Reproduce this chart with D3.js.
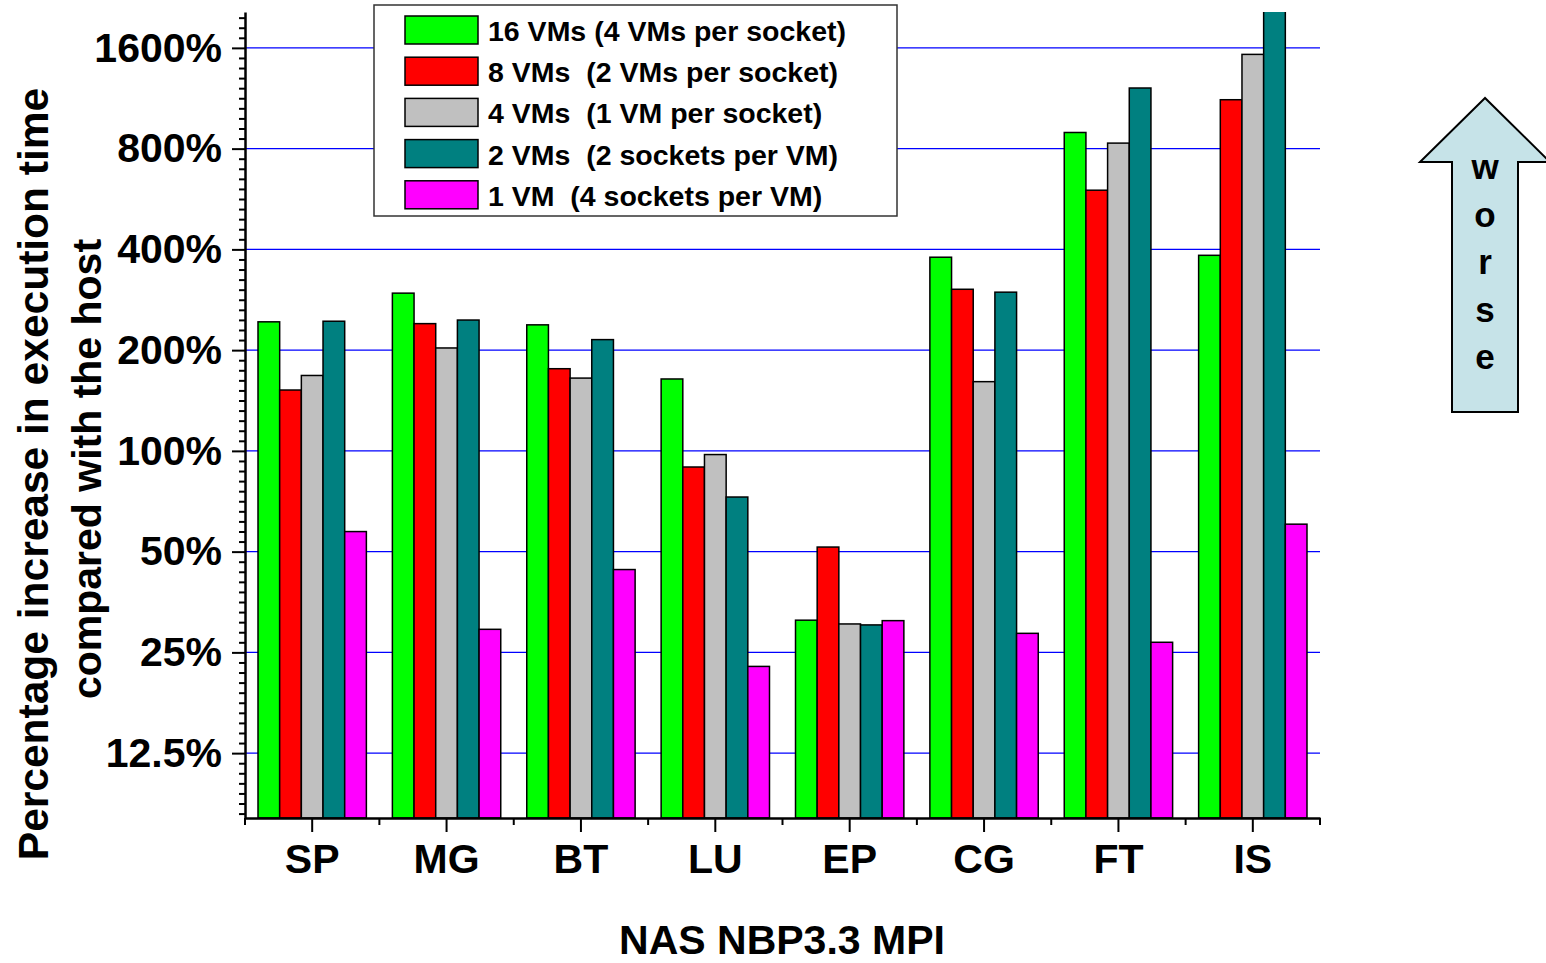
<!DOCTYPE html>
<html>
<head>
<meta charset="utf-8">
<script src="https://cdn.jsdelivr.net/npm/d3@7"></script>
<style>
  body { margin: 0; background: #fff; }
  text { font-family: "Liberation Sans", Arial, sans-serif; font-weight: bold; }
</style>
</head>
<body>
<div id="chart"></div>
<script>
const width = 1546;
const height = 963;

// NAS benchmarks
const categories = ["SP", "MG", "BT", "LU", "EP", "CG", "FT", "IS"];
const seriesNames = [
    "16 VMs (4 VMs per socket)",
    "8 VMs  (2 VMs per socket)",
    "4 VMs  (1 VM per socket)",
    "2 VMs  (2 sockets per VM)",
    "1 VM  (4 sockets per VM)"
];
const seriesColors = ["#00ff00", "#ff0000", "#c0c0c0", "#008080", "#ff00ff"];

// % increase in execution time vs host
const vm16 = [243, 296, 238, 164, 31.2, 379, 894, 384];
const vm8 = [152, 240, 176, 89.5, 51.6, 304, 601, 1120];
const vm4 = [168, 203, 165, 97.5, 30.4, 161, 831, 1530];
const vm2 = [244, 246, 215, 72.8, 30.2, 298, 1214, 2300];
const vm1 = [57.4, 29.3, 44.2, 22.7, 31.1, 28.5, 26.8, 60.4];
const seriesValues = [vm16, vm8, vm4, vm2, vm1];

const yTicks = [12.5, 25, 50, 100, 200, 400, 800, 1600];
const yDomain = [8, 2048];

const margin = { left: 245, right: 1320, top: 12, bottom: 818 };

const svg = d3.select("#chart")
    .append("svg")
    .attr("width", width)
    .attr("height", height);

const x = d3.scaleBand()
    .domain(categories)
    .range([margin.left, margin.right]);

const x1 = d3.scaleBand()
    .domain(d3.range(seriesNames.length))
    .range([0, x.bandwidth()])
    .paddingOuter(0.6);

const y = d3.scaleLog()
    .base(2)
    .domain(yDomain)
    .range([margin.bottom, margin.top]);

svg.append("clipPath")
    .attr("id", "plot-clip")
    .append("rect")
    .attr("x", margin.left)
    .attr("y", margin.top)
    .attr("width", margin.right - margin.left)
    .attr("height", margin.bottom - margin.top);

// grid lines
svg.append("g")
    .selectAll("line")
    .data(yTicks)
    .enter().append("line")
    .attr("x1", margin.left)
    .attr("x2", margin.right)
    .attr("y1", d => y(d))
    .attr("y2", d => y(d))
    .attr("stroke", "#0000ff")
    .attr("stroke-width", 1.2);

// bars
const rows = [];
categories.forEach((c, i) => {
    seriesValues.forEach((vals, s) => rows.push({ cat: c, s: s, v: vals[i] }));
});

svg.append("g")
    .attr("clip-path", "url(#plot-clip)")
    .selectAll("rect")
    .data(rows)
    .enter().append("rect")
    .attr("x", d => x(d.cat) + x1(d.s))
    .attr("y", d => y(d.v))
    .attr("width", x1.bandwidth())
    .attr("height", d => margin.bottom - y(d.v))
    .attr("fill", d => seriesColors[d.s])
    .attr("stroke", "#000")
    .attr("stroke-width", 1.5);

// y axis: minor ticks every tenth of an octave
const minorTicks = [];
for (let k = -1; k < 8; k++) {
    for (let j = 1; j < 10; j++) {
        const v = 12.5 * Math.pow(2, k + j / 10);
        if (v > yDomain[0] && v < yDomain[1]) minorTicks.push(v);
    }
}

svg.append("g")
    .attr("transform", `translate(${margin.left},0)`)
    .call(d3.axisLeft(y).tickValues(minorTicks).tickSize(6).tickSizeOuter(0).tickFormat(""))
    .call(g => g.select(".domain").remove())
    .call(g => g.selectAll("line").attr("stroke-width", 2));

const yAxis = svg.append("g")
    .attr("transform", `translate(${margin.left},0)`)
    .call(d3.axisLeft(y).tickValues(yTicks).tickSize(13).tickSizeOuter(0).tickPadding(10)
        .tickFormat(d => d + "%"));
yAxis.select(".domain").attr("stroke-width", 2.5);
yAxis.selectAll("line").attr("stroke-width", 2);
yAxis.selectAll("text")
    .attr("font-size", 41)
    .attr("font-weight", "bold")
    .attr("fill", "#000");

// x axis
svg.append("g")
    .attr("transform", `translate(0,${margin.bottom})`)
    .selectAll("line")
    .data(categories.concat(["__end"]))
    .enter().append("line")
    .attr("x1", d => d === "__end" ? margin.right : x(d))
    .attr("x2", d => d === "__end" ? margin.right : x(d))
    .attr("y1", 0)
    .attr("y2", 7)
    .attr("stroke", "#000")
    .attr("stroke-width", 2);

const xAxis = svg.append("g")
    .attr("transform", `translate(0,${margin.bottom})`)
    .call(d3.axisBottom(x).tickSize(14).tickSizeOuter(0));
xAxis.select(".domain").attr("stroke-width", 2.5);
xAxis.selectAll("line").attr("stroke-width", 2);
xAxis.selectAll("text")
    .attr("y", 55)
    .attr("dy", null)
    .attr("font-size", 41)
    .attr("font-weight", "bold")
    .attr("fill", "#000");

// axis titles
svg.append("text")
    .attr("transform", "translate(48,474) rotate(-90)")
    .attr("text-anchor", "middle")
    .attr("font-size", 42.5)
    .text("Percentage increase in execution time");

svg.append("text")
    .attr("transform", "translate(101,469) rotate(-90)")
    .attr("text-anchor", "middle")
    .attr("font-size", 41)
    .text("compared with the host");

svg.append("text")
    .attr("x", 782)
    .attr("y", 954)
    .attr("text-anchor", "middle")
    .attr("font-size", 41)
    .text("NAS NBP3.3 MPI");

// legend
const legend = svg.append("g");
legend.append("rect")
    .attr("x", 374)
    .attr("y", 5)
    .attr("width", 523)
    .attr("height", 211)
    .attr("fill", "#fff")
    .attr("stroke", "#333")
    .attr("stroke-width", 1.5);

const item = legend.selectAll(".item")
    .data(seriesNames)
    .enter().append("g")
    .attr("transform", (d, i) => `translate(0,${i * 41.2})`);

item.append("rect")
    .attr("x", 405)
    .attr("y", 16)
    .attr("width", 73)
    .attr("height", 28)
    .attr("fill", (d, i) => seriesColors[i])
    .attr("stroke", "#000")
    .attr("stroke-width", 1.5);

item.append("text")
    .attr("x", 488)
    .attr("y", 41)
    .attr("font-size", 28.5)
    .style("white-space", "pre")
    .text(d => d);

// "worse" arrow
svg.append("polygon")
    .attr("points", "1485,98 1420,162 1452,162 1452,412 1518,412 1518,162 1550,162")
    .attr("fill", "#c6e3e8")
    .attr("stroke", "#000")
    .attr("stroke-width", 2);

svg.append("g")
    .selectAll("text")
    .data("worse".split(""))
    .enter().append("text")
    .attr("x", 1485)
    .attr("y", (d, i) => 179 + i * 47.5)
    .attr("text-anchor", "middle")
    .attr("font-size", 35)
    .text(d => d);
</script>
</body>
</html>
